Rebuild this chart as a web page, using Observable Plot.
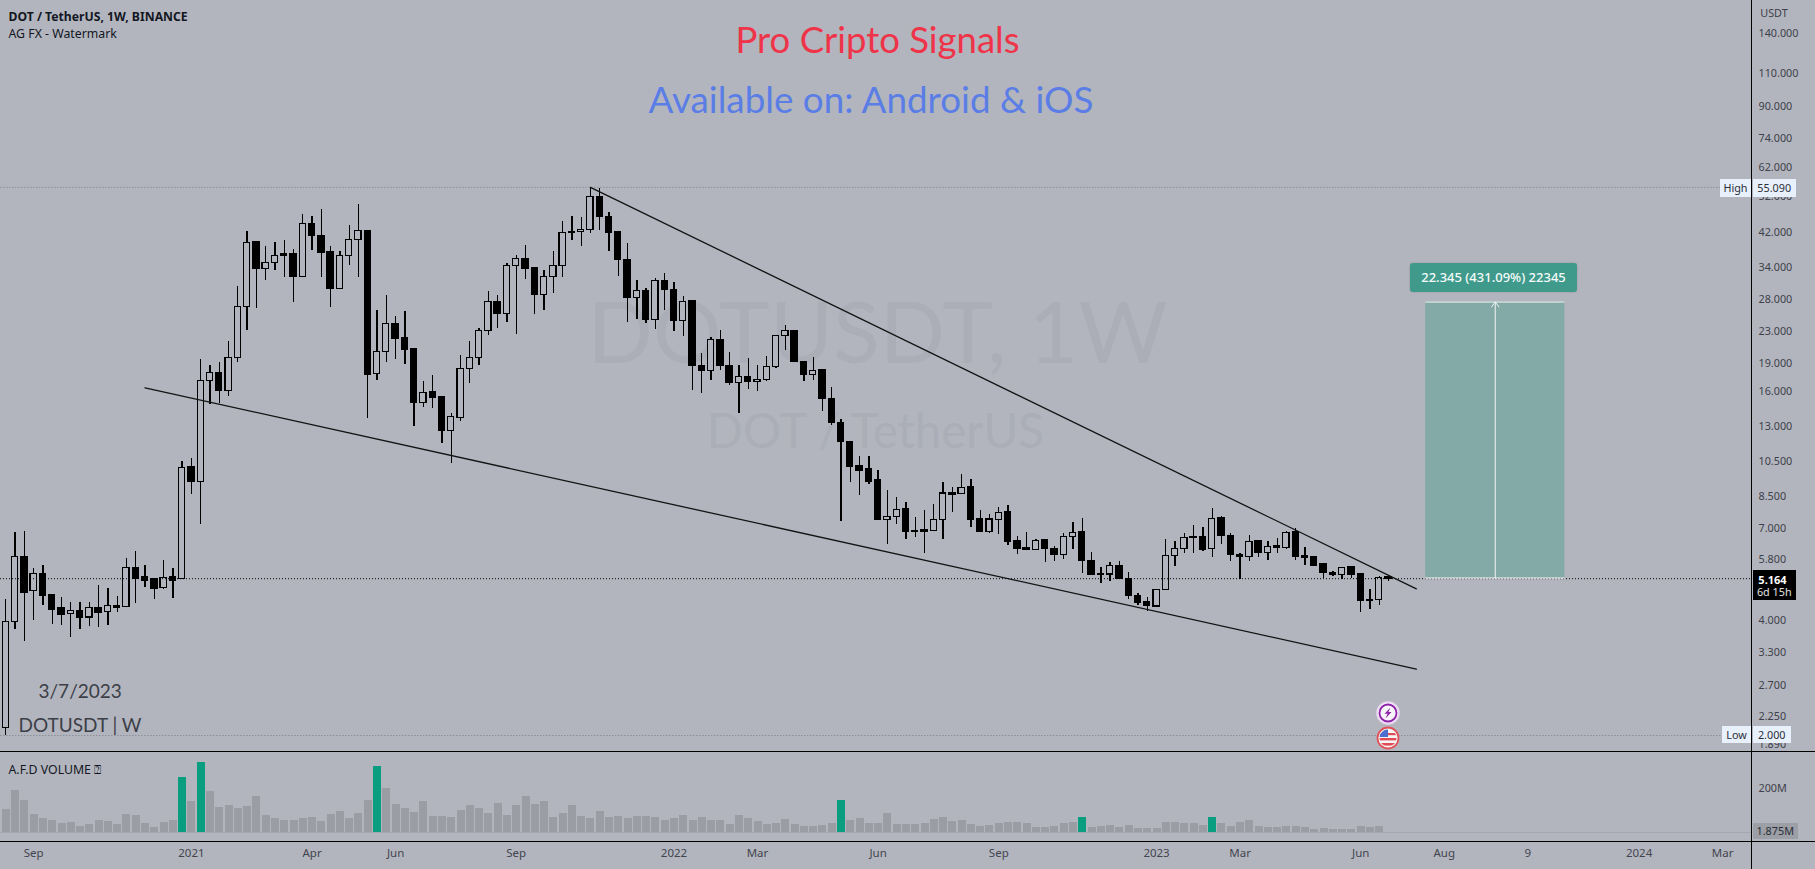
<!doctype html><html><head><meta charset="utf-8">
<style>html,body{margin:0;padding:0;background:#b2b5be;overflow:hidden}
#wrap{position:relative;width:1815px;height:869px;background:#b2b5be;overflow:hidden}
#wrap svg.pl{position:absolute;left:0;background:transparent}
.ov{position:absolute;white-space:nowrap;font-family:"Noto Sans",sans-serif;color:#131722}</style>
<script src="https://cdn.jsdelivr.net/npm/d3@7"></script>
<script src="https://cdn.jsdelivr.net/npm/@observablehq/plot@0.6"></script>
</head><body><div id="wrap"></div>
<script>
const high=[4.567,6.848,6.880,5.496,5.586,4.695,4.609,4.483,4.462,4.483,4.941,4.861,4.641,5.850,6.085,
5.586,5.151,5.756,5.496,10.48,10.68,19.45,18.75,19.14,21.64,30.27,42.15,39.51,38.60,39.51,
39.88,37.72,46.78,46.25,48.10,38.43,37.29,43.64,49.69,42.35,26.16,28.70,25.27,26.04,20.66,
17.03,17.65,15.58,14.00,19.93,21.69,23.41,29.35,28.64,34.83,36.49,38.76,33.73,33.32,37.46,
44.82,46.20,45.92,55.09,54.61,47.42,42.02,39.31,31.37,29.82,31.68,32.72,30.93,28.47,27.68,
20.13,22.17,23.18,20.29,18.76,19.61,18.76,19.81,22.49,23.89,23.18,19.25,19.65,18.31,16.45,
13.53,11.87,10.82,10.82,9.937,8.805,8.457,8.205,7.493,7.801,8.074,9.223,8.948,9.700,9.411,
7.801,7.600,7.960,8.041,6.666,6.843,6.533,6.533,6.287,6.802,7.270,7.448,6.039,5.537,5.707,
5.730,5.351,4.712,4.600,4.828,6.559,6.480,6.802,7.110,7.053,7.912,7.539,6.774,6.027,6.706,
6.480,6.480,6.573,6.871,6.982,6.224,5.906,5.650,5.394,5.537,5.537,5.340,4.828,5.233,5.265];
const low=[2.000,3.794,3.532,4.011,4.380,3.919,3.883,3.614,3.794,3.856,3.839,3.883,4.201,4.350,4.452,
4.895,4.567,4.850,4.588,5.139,8.572,7.156,14.77,14.94,15.58,19.14,23.20,26.47,31.34,33.29,
31.93,27.47,31.86,37.55,31.93,26.65,29.79,34.38,31.86,13.62,17.09,19.05,19.45,18.83,12.94,
14.58,14.49,11.72,10.39,13.39,16.85,18.76,22.49,23.51,24.28,22.62,31.62,25.53,26.16,28.94,
31.94,40.03,38.53,41.60,42.44,37.38,32.13,24.33,24.77,24.23,23.32,26.16,23.04,22.40,16.12,
15.80,17.13,18.20,16.62,14.00,16.22,16.06,17.06,18.46,20.54,19.10,17.03,17.13,14.20,13.05,
7.299,9.223,8.542,9.130,7.388,6.351,7.168,6.533,6.612,6.002,6.871,6.546,7.708,8.594,7.053,
6.829,6.774,6.747,6.313,5.978,6.137,6.125,5.707,5.742,5.800,6.162,5.318,5.265,5.026,5.088,
5.139,4.544,4.400,4.243,4.330,4.818,5.571,6.015,6.002,6.100,5.859,6.351,5.730,5.150,5.730,
5.859,5.765,6.027,6.162,5.765,5.593,5.571,5.160,5.244,5.139,5.160,4.201,4.278,4.382,5.077];
const open=[2.088,3.974,5.891,4.783,5.320,4.663,4.310,4.163,4.250,4.086,4.330,4.221,4.380,4.350,5.521,
5.199,5.139,4.872,5.199,5.151,10.15,9.252,17.05,17.94,16.05,19.59,26.72,39.51,33.60,34.87,
36.69,36.69,32.00,44.15,41.09,37.29,29.79,36.43,40.06,42.35,17.82,20.38,24.13,22.10,20.66,
14.93,15.93,15.45,12.61,13.64,18.34,19.65,23.13,27.57,25.59,34.28,35.76,33.73,28.76,32.07,
34.21,42.10,42.02,42.62,52.03,46.10,41.93,35.54,28.24,29.47,24.72,31.30,29.64,24.57,27.62,
18.72,18.16,21.91,18.72,16.89,17.51,16.99,17.20,18.57,22.44,23.13,19.18,17.73,18.20,15.33,
13.26,11.80,10.18,9.998,9.354,7.373,7.508,7.849,6.885,6.912,6.885,7.373,8.646,8.612,8.966,
7.418,6.843,7.373,7.708,6.467,6.199,6.149,6.507,6.187,5.954,6.639,6.829,5.754,5.297,5.297,
5.582,5.160,4.656,4.490,4.365,4.828,5.918,6.174,6.653,6.653,6.174,7.433,6.693,5.966,5.883,
6.467,6.039,6.275,6.212,6.829,5.906,5.871,5.627,5.351,5.286,5.526,5.318,4.544,4.535,5.202];
const close=[3.974,5.891,4.750,5.308,4.641,4.280,4.153,4.250,4.086,4.330,4.211,4.380,4.340,5.521,5.163,
5.103,4.861,5.175,5.103,10.10,9.252,17.09,17.94,16.05,19.59,26.72,39.42,33.60,34.87,36.43,
36.35,32.00,44.15,41.00,37.11,29.72,36.43,40.06,42.35,17.77,20.38,24.13,21.99,20.57,14.94,
15.90,15.39,12.61,13.75,18.38,19.65,23.13,27.57,25.59,34.28,35.76,33.59,28.70,32.07,34.21,
41.85,41.77,42.62,52.03,46.01,41.77,35.47,28.19,29.41,24.67,31.30,29.58,24.53,27.57,18.68,
18.16,21.91,18.68,16.85,17.48,16.96,17.20,18.57,22.44,23.13,19.14,17.69,18.16,15.30,13.23,
11.80,10.14,9.937,9.298,7.388,7.508,7.833,6.843,6.843,6.843,7.373,8.646,8.594,8.948,7.388,
6.843,7.388,7.692,6.441,6.174,6.149,6.494,6.174,5.954,6.653,6.816,5.742,5.276,5.276,5.571,
5.150,4.646,4.472,4.373,4.828,5.930,6.174,6.612,6.599,6.162,7.418,6.679,5.954,5.883,6.454,
6.027,6.249,6.212,6.816,5.883,5.847,5.593,5.340,5.276,5.515,5.297,4.508,4.508,5.191,5.164];
const volume=[105,192,146,82,64,57,42,48,30,39,55,52,39,84,80,42,24,48,57,250,142,318,186,116,124,111,120,165,80,64,
57,57,63,70,52,84,98,66,88,147,300,201,129,111,93,142,75,75,70,102,124,111,88,134,80,124,165,129,142,70,
88,124,75,64,98,70,75,64,75,75,70,57,64,78,57,70,57,57,39,80,63,50,39,44,62,39,30,30,34,44,
147,57,66,44,44,88,39,39,39,44,62,70,52,57,39,30,34,44,48,48,44,26,26,30,44,48,70,26,30,34,
26,34,21,21,21,48,48,44,44,34,70,44,30,48,57,30,26,26,30,30,26,16,21,16,16,16,30,26,30,1.875];
const greenWeeks=[19,21,40,90,116,130];
const priceTicks=[140,110,90,74,62,52,42,34,28,23,19,16,13,10.5,8.5,7,5.8,4,3.3,2.7,2.25,1.89];
const timeTickDates=["2020-09-07","2021-01-04","2021-04-05","2021-06-07","2021-09-06","2022-01-03","2022-03-07","2022-06-06","2022-09-05","2023-01-02","2023-03-06","2023-06-05","2023-08-07","2023-10-09","2024-01-01","2024-03-04"];
const timeTickLabels=["Sep","2021","Apr","Jun","Sep","2022","Mar","Jun","Sep","2023","Mar","Jun","Aug","9","2024","Mar"];
const upperTrend=[{date:"2021-11-01",price:55.09},{date:"2023-07-17",price:4.858}];
const lowerTrend=[{date:"2020-11-30",price:16.39},{date:"2023-07-17",price:2.99}];
const lastPrice=5.164,highPrice=55.09,lowPrice=2.0,entry=5.184,target=27.528;

const BG="#b2b5be",firstWeek=new Date(Date.UTC(2020,7,17));
const D=s=>new Date(s+"T00:00:00Z");
const rows=high.map((h,i)=>({date:d3.utcDay.offset(firstWeek,7*i),high:h,low:low[i],open:open[i],close:close[i],volume:volume[i],green:greenWeeks.includes(i),up:close[i]>open[i]}));
const half=v=>d3.utcHour.offset(v,-56),half2=v=>d3.utcHour.offset(v,56);
const xScale={type:"utc",domain:[new Date("2020-08-12T23:30:00Z"),new Date("2024-03-25T19:00:00Z")]};
const TF='"Noto Sans",sans-serif',LF='Lato,sans-serif';
const frameText=(t,dx,dy,o)=>Plot.text([t],{frameAnchor:"top-left",dx,dy,lineAnchor:"bottom",...o});
const line=d=>d.map(p=>({date:D(p.date),price:p.price}));
const priceFormat=d3.format(".3f");

const price=Plot.plot({width:1815,height:752,marginLeft:0,marginRight:64,marginTop:0,marginBottom:0,
 style:{background:"transparent",fontFamily:TF,fontSize:"10.8px",overflow:"visible"},
 x:{...xScale,axis:null},
 y:{type:"log",domain:[1.8046,170.6],axis:null},
 marks:[
  frameText("DOTUSDT, 1W",877,362,{textAnchor:"middle",fontFamily:LF,fontSize:86,fill:"#abaeb7"}),
  frameText("DOT / TetherUS",875,447,{textAnchor:"middle",fontFamily:LF,fontSize:47.5,fill:"#abaeb7"}),
  Plot.ruleY([highPrice,lowPrice],{stroke:"#8b8e97",strokeWidth:1,strokeDasharray:"1.5,1.5"}),
  Plot.ruleX(rows,{x:"date",y1:"low",y2:"high",stroke:"#000",strokeWidth:1.3,shapeRendering:"crispEdges"}),
  Plot.rect(rows,{filter:d=>d.up,x1:d=>half(d.date),x2:d=>half2(d.date),y1:"open",y2:"close",fill:BG,stroke:"#000",strokeWidth:1.2,shapeRendering:"crispEdges"}),
  Plot.rect(rows,{filter:d=>!d.up,x1:d=>half(d.date),x2:d=>half2(d.date),y1:"open",y2:"close",fill:"#000",stroke:"#000",strokeWidth:1.2,shapeRendering:"crispEdges"}),
  Plot.ruleY([lastPrice],{stroke:"#000",strokeWidth:1,strokeDasharray:"1,2"}),
  Plot.line(line(upperTrend),{x:"date",y:"price",stroke:"#131313",strokeWidth:1.3}),
  Plot.line(line(lowerTrend),{x:"date",y:"price",stroke:"#131313",strokeWidth:1.3}),
  Plot.rect([{a:D("2023-07-24"),b:D("2023-11-06")}],{x1:"a",x2:"b",y1:entry,y2:target,fill:"#83aaa7"}),
  Plot.ruleY([entry,target],{x1:D("2023-07-24"),x2:D("2023-11-06"),stroke:"#f2f5f5",strokeWidth:1}),
  Plot.arrow([{x:new Date("2023-09-14T12:00:00Z")}],{x:"x",y1:entry,y2:target,stroke:"#f2f5f5",strokeWidth:1,headLength:9,headAngle:75,inset:0}),
  Plot.text(priceTicks,{y:d=>d,text:d=>priceFormat(d),frameAnchor:"right",dx:7,textAnchor:"start",fill:"#3e414a"}),
  frameText("Pro Cripto Signals",877,52,{textAnchor:"middle",fontFamily:LF,fontSize:36.5,fill:"#ef3348"}),
  frameText("Available on: Android & iOS",870.5,112,{textAnchor:"middle",fontFamily:LF,fontSize:36.8,fill:"#5a7de6"}),
  frameText("DOT / TetherUS, 1W, BINANCE",8,20,{textAnchor:"start",fontSize:12.2,fontWeight:"bold",fill:"#131722"}),
  frameText("AG FX - Watermark",8,37,{textAnchor:"start",fontSize:12.3,fill:"#131722"}),
  frameText("3/7/2023",38,697,{textAnchor:"start",fontFamily:LF,fontSize:19,fill:"#3c3f48",letterSpacing:"0.5px"}),
  frameText("DOTUSDT | W",18,731,{textAnchor:"start",fontFamily:LF,fontSize:19,fill:"#3c3f48",letterSpacing:"0.5px"})
 ]});
price.setAttribute("class","pl");price.style.top="0";

const vol=Plot.plot({width:1815,height:117,marginLeft:0,marginRight:64,marginTop:0,marginBottom:28,
 style:{background:"transparent",fontFamily:TF,fontSize:"10.8px",overflow:"visible"},
 x:{...xScale},
 y:{domain:[-38.7,362],axis:null},
 marks:[
  Plot.ruleY([volume[volume.length-1]],{stroke:"#a4a7af",strokeWidth:1}),
  Plot.ruleX(rows,{filter:d=>!d.green,x:"date",y1:0,y2:"volume",stroke:"#9b9da5",strokeWidth:8,shapeRendering:"crispEdges"}),
  Plot.ruleX(rows,{filter:d=>d.green,x:"date",y1:0,y2:"volume",stroke:"#0a9e80",strokeWidth:8,shapeRendering:"crispEdges"}),
  Plot.axisX({ticks:timeTickDates.map(D),tickFormat:(d,i)=>timeTickLabels[i],anchor:"bottom",tickSize:0,tickPadding:7,label:null,fill:"#42454e",fontSize:11.5}),
  Plot.text([200],{y:d=>d,text:d=>d+"M",frameAnchor:"right",dx:7,textAnchor:"start",fill:"#3e414a"}),
  frameText("A.F.D VOLUME \u2370",8,21,{textAnchor:"start",fontSize:12.3,fill:"#131722"})
 ]});
vol.setAttribute("class","pl");vol.style.top="752px";

const wrap=document.getElementById("wrap");wrap.append(price,vol);
function box(x,y,w,h,bg,extra){const e=document.createElement("div");e.className="ov";e.style.cssText=`left:${x}px;top:${y}px;width:${w}px;height:${h}px;background:${bg};${extra||""}`;wrap.append(e);return e}
function lab(t,x,y,w,h,bg,col,fs,extra){const e=box(x,y,w,h,bg,`color:${col};font-size:${fs}px;line-height:${h}px;text-align:center;${extra||""}`);e.textContent=t;return e}
// pane separators
box(0,751,1815,1.4,"#000");box(0,841,1815,1.4,"#000");box(1751,0,1.4,869,"#000");
lab("USDT",1756,6,36,14,"transparent","#3e414a",10.8);
lab("High",1720,179,31,18,"#e8f0fb","#2a2e39",10.8);
lab("55.090",1752.5,179,43.5,18,"#e8f0fb","#2a2e39",10.8);
lab("Low",1722,726,29,17,"#e8f0fb","#2a2e39",10.8);
lab("2.000",1752.5,726,38.5,17,"#e8f0fb","#2a2e39",10.8);
box(1752.5,570,43.5,30,"#000");
lab("5.164",1752.5,571,40,17,"transparent","#fff",11,"font-weight:bold");
lab("6d 15h",1752.5,584,43.5,15,"transparent","#e2e2e2",10.8);
lab("1.875M",1752.5,823,45.5,16,"#9c9fa5","#2a2e39",10.8);
lab("22.345 (431.09%) 22345",1410,263,167,29,"#409a8b","#f4fbfa",13,"border-radius:3px;box-shadow:0 0 2px rgba(0,0,0,.2);font-weight:500");
const ic=document.createElementNS("http://www.w3.org/2000/svg","svg");
ic.setAttribute("width",30);ic.setAttribute("height",56);ic.style.cssText="position:absolute;left:1373px;top:698px";
ic.innerHTML=`<circle cx="15" cy="15" r="11" fill="#f2e8f6" stroke="#e9d8ef" stroke-width="1.5"/><circle cx="15" cy="15" r="8.5" fill="#f7f5f9" stroke="#8e24aa" stroke-width="1.8"/><path d="M17.5 9.5 L11.5 15.8 L14.6 15.8 L12.5 20.5 L18.5 14 L15.4 14 Z" fill="#8e24aa"/>
<clipPath id="fc"><circle cx="15" cy="40" r="8.5"/></clipPath><circle cx="15" cy="40" r="10.5" fill="#f3f3f3" stroke="#e0525a" stroke-width="1.8"/><g clip-path="url(#fc)"><rect x="6" y="31" width="18" height="18" fill="#f6f6f6"/><rect x="6" y="35" width="18" height="2.2" fill="#e04b55"/><rect x="6" y="40" width="18" height="2.4" fill="#e04b55"/><rect x="6" y="45" width="18" height="2.6" fill="#e04b55"/><rect x="6" y="31" width="9" height="8" fill="#4a6fd0"/></g>`;
wrap.append(ic);
</script></body></html>
